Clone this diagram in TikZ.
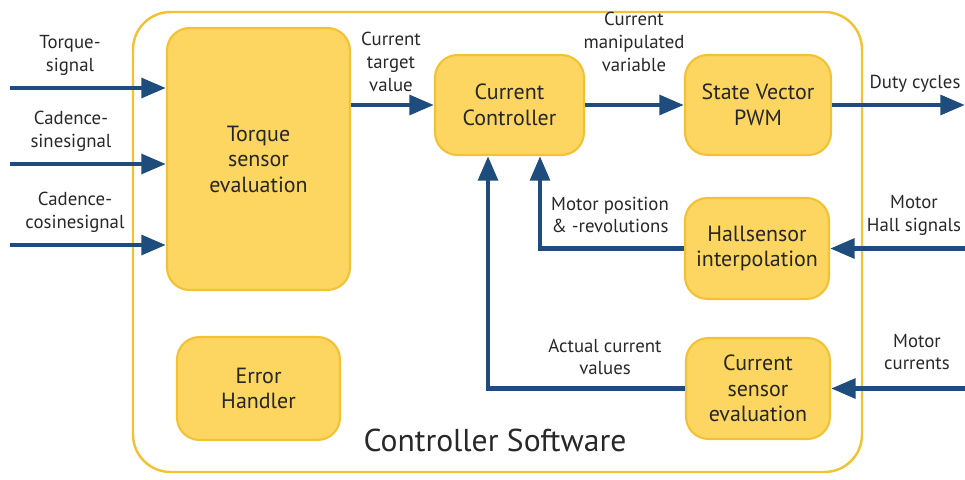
\documentclass[tikz,border=0pt]{standalone}
\usepackage{fontspec}
\setmainfont{PT Sans}
\usetikzlibrary{arrows.meta}

\definecolor{boxfill}{RGB}{252,214,96}
\definecolor{boxline}{RGB}{243,194,52}
\definecolor{wireblue}{RGB}{29,76,125}
\definecolor{textgray}{RGB}{40,40,40}

\begin{document}
\begin{tikzpicture}[x=0.02cm, y=-0.02cm,
    block/.style = {shape=rectangle, rounded corners=0.45cm, draw=boxline,
      line width=1.2pt, fill=boxfill, align=center, text=black!85,
      font=\fontsize{12.5}{14.5}\selectfont},
    sig/.style = {draw=wireblue, line width=2.8pt,
      -{Triangle[length=14pt,width=11pt]}},
    lbl/.style = {align=center, text=textgray,
      font=\fontsize{10.7}{13}\selectfont}]
  \useasboundingbox (0,0) rectangle (965,480);

  % frame of the software
  \draw[boxline, line width=1.4pt, rounded corners=0.75cm]
    (133,12) rectangle (862,472);
  \node[text=textgray, font=\fontsize{18}{21}\selectfont] (title) at (495,440)
    {Controller Software};

  % blocks
  \node[block, minimum width=3.66cm, minimum height=5.24cm] (torque) at (258.5,159)
    {Torque\\sensor\\evaluation};
  \node[block, minimum width=3.26cm, minimum height=2.06cm] (errorh) at (258.5,388.5)
    {Error\\Handler};
  \node[block, minimum width=2.98cm, minimum height=2.0cm] (ctrl) at (509.5,105)
    {Current\\Controller};
  \node[block, minimum width=2.92cm, minimum height=2.0cm] (pwm) at (758,105)
    {State Vector\\PWM};
  \node[block, minimum width=2.88cm, minimum height=2.02cm] (hall) at (757,248.5)
    {Hallsensor\\interpolation};
  \node[block, minimum width=2.88cm, minimum height=2.02cm] (cursens) at (758,388.5)
    {Current\\sensor\\evaluation};

  % loose ends of the wires
  \coordinate (tsig) at (10,88);
  \coordinate (ssig) at (10,164);
  \coordinate (csig) at (10,245);
  \coordinate (duty) at (965,105);
  \coordinate (hsig) at (965,248.5);
  \coordinate (isig) at (965,388.5);

  % inputs on the left
  \draw[sig] (tsig) -- (tsig -| torque.west);
  \draw[sig] (ssig) -- (ssig -| torque.west);
  \draw[sig] (csig) -- (csig -| torque.west);
  \node[lbl] (tlbl) at (70,55) {Torque-\\signal};
  \node[lbl] (slbl) at (71,131) {Cadence-\\sinesignal};
  \node[lbl] (clbl) at (75,212) {Cadence-\\cosinesignal};

  % forward path
  \draw[sig] (torque.east |- ctrl.west) -- (ctrl.west);
  \node[lbl] (target) at (391,62) {Current\\target\\value};
  \draw[sig] (ctrl.east) -- (pwm.west);
  \node[lbl] (manip) at (634,42) {Current\\manipulated\\variable};
  \draw[sig] (pwm.east) -- (duty);
  \node[lbl] (dutylbl) at (915,84) {Duty cycles};

  % feedback paths
  \draw[sig] (hall.west) -| ([xshift=0.61cm]ctrl.south);
  \node[lbl] (poslbl) at (610,215) {Motor position\\\& -revolutions};
  \draw[sig] (cursens.west) -| ([xshift=-0.43cm]ctrl.south);
  \node[lbl] (actlbl) at (605,357) {Actual current\\values};

  % sensor inputs on the right
  \draw[sig] (hsig) -- (hall.east);
  \node[lbl] (halllbl) at (914,215) {Motor\\Hall signals};
  \draw[sig] (isig) -- (cursens.east);
  \node[lbl] (curlbl) at (917,352) {Motor\\currents};
\end{tikzpicture}
\end{document}
